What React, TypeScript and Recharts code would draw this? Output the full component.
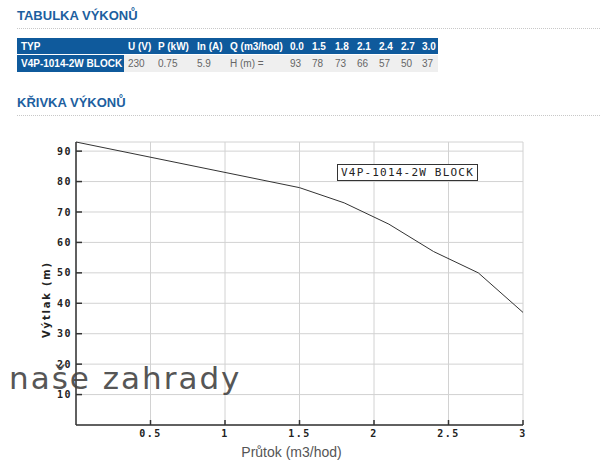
import { LineChart, Line, XAxis, YAxis, CartesianGrid, Label } from 'recharts';

const pumpName = 'V4P-1014-2W BLOCK';
const specHeaders = ['TYP', 'U (V)', 'P (kW)', 'In (A)', 'Q (m3/hod)'];
const specValues = [pumpName, '230', '0.75', '5.9', 'H (m) ='];
const flows = [0, 1.5, 1.8, 2.1, 2.4, 2.7, 3.0];
const heads = [93, 78, 73, 66, 57, 50, 37];
const xTicks = [0.5, 1, 1.5, 2, 2.5, 3];
const yTicks = [10, 20, 30, 40, 50, 60, 70, 80, 90];

const chartData = flows.map((q, i) => ({ q, h: heads[i] }));

const blue = '#0f5a9c';
const colWidths = [107, 30, 39, 33, 60, 22, 23, 22, 22, 22, 21, 20];

const tickFont = {
  fontFamily: '"DejaVu Sans Mono", monospace',
  fontSize: 10,
  fontWeight: 700,
  letterSpacing: 1.5,
  fill: '#222',
};

function SectionTitle({ text, top }: { text: string; top: number }) {
  return (
    <div style={{ position: 'absolute', left: 17, top, width: 583 }}>
      <div
        style={{
          fontFamily: '"Liberation Sans", Arial, sans-serif',
          fontWeight: 700,
          fontSize: 13,
          color: '#1d5f9f',
          lineHeight: '16px',
        }}
      >
        {text}
      </div>
      <div style={{ marginTop: 4, borderTop: '1px dotted #c8c8c8' }} />
    </div>
  );
}

export default function App() {
  const cell = (i: number, head: boolean) => ({
    width: colWidths[i] - 4,
    maxWidth: colWidths[i] - 4,
    padding: '0 0 0 4px',
    height: head ? 16 : 17,
    textAlign: 'left' as const,
    whiteSpace: 'nowrap' as const,
    overflow: 'hidden',
    color: head || i === 0 ? '#fff' : '#666',
    fontWeight: head || i === 0 ? 700 : 400,
    background: head || i === 0 ? blue : '#efefef',
  });

  return (
    <div
      style={{
        position: 'fixed',
        left: 0,
        top: 0,
        width: 600,
        height: 474,
        background: '#fff',
        overflow: 'hidden',
        fontFamily: '"Liberation Sans", Arial, sans-serif',
      }}
    >
      <SectionTitle text="TABULKA VÝKONŮ" top={8} />

      <table
        style={{
          position: 'absolute',
          left: 17,
          top: 38,
          borderCollapse: 'collapse',
          fontSize: 10,
          tableLayout: 'fixed',
        }}
      >
        <tbody>
          <tr>
            {specHeaders.map((h, i) => (
              <td key={h} style={cell(i, true)}>{h}</td>
            ))}
            {flows.map((q, i) => (
              <td key={q} style={cell(i + 5, true)}>{q.toFixed(1)}</td>
            ))}
          </tr>
          <tr style={{ borderTop: '1px solid #fff' }}>
            {specValues.map((v, i) => (
              <td key={v} style={cell(i, false)}>{v}</td>
            ))}
            {heads.map((h, i) => (
              <td key={i} style={cell(i + 5, false)}>{h}</td>
            ))}
          </tr>
        </tbody>
      </table>

      <SectionTitle text="KŘIVKA VÝKONŮ" top={95} />

      <div style={{ position: 'absolute', left: 0, top: 130 }}>
        <LineChart width={560} height={344} data={chartData} margin={{ top: 12, right: 37, left: 0, bottom: 19 }}>
          <CartesianGrid stroke="#d2d2d2" strokeWidth={1} />
          <XAxis
            dataKey="q"
            type="number"
            domain={[0, 3]}
            ticks={xTicks}
            height={30}
            tickSize={-5}
            tickMargin={10}
            tickFormatter={(v: number) => String(v)}
            tick={tickFont}
            axisLine={{ stroke: '#333', strokeWidth: 1.5 }}
            tickLine={{ stroke: '#333', strokeWidth: 1.5 }}
          >
            <Label
              content={({ viewBox }: any) => (
                <text
                  x={viewBox.x + viewBox.width / 2 - 8}
                  y={viewBox.y + 32}
                  textAnchor="middle"
                  fontFamily='"Liberation Sans", Arial, sans-serif'
                  fontSize={14}
                  fill="#555"
                >
                  Průtok (m3/hod)
                </text>
              )}
            />
          </XAxis>
          <YAxis
            type="number"
            domain={[0, 93]}
            ticks={yTicks}
            width={76}
            tickSize={-6}
            tickMargin={10}
            tick={tickFont}
            axisLine={{ stroke: '#333', strokeWidth: 1.5 }}
            tickLine={{ stroke: '#333', strokeWidth: 1.5 }}
          >
            <Label
              content={({ viewBox }: any) => {
                const cx = viewBox.x + 46;
                const cy = viewBox.y + viewBox.height / 2 + 16;
                return (
                  <text
                    x={cx}
                    y={cy}
                    transform={`rotate(-90 ${cx} ${cy})`}
                    textAnchor="middle"
                    dominantBaseline="central"
                    fontFamily='"DejaVu Sans", sans-serif'
                    fontWeight={700}
                    fontSize={10}
                    letterSpacing={1.8}
                    fill="#222"
                  >
                    Výtlak (m)
                  </text>
                );
              }}
            />
          </YAxis>
          <Line
            dataKey="h"
            name={pumpName}
            stroke="#333"
            strokeWidth={1}
            dot={false}
            activeDot={false}
            isAnimationActive={false}
          />
        </LineChart>
      </div>

      <div
        style={{
          position: 'absolute',
          left: 337,
          top: 164,
          border: '1px solid #333',
          background: '#fff',
          padding: '1px 3px',
          fontFamily: '"DejaVu Sans Mono", monospace',
          fontSize: 11,
          letterSpacing: 1.2,
          color: '#222',
          lineHeight: '13px',
          whiteSpace: 'nowrap',
        }}
      >
        {pumpName}
      </div>

      <div
        style={{
          position: 'absolute',
          left: 9,
          top: 360,
          fontFamily: '"DejaVu Sans", sans-serif',
          fontSize: 31,
          letterSpacing: 2,
          color: '#444',
          opacity: 0.9,
          whiteSpace: 'nowrap',
          pointerEvents: 'none',
        }}
      >
        naše zahrady
      </div>
    </div>
  );
}
